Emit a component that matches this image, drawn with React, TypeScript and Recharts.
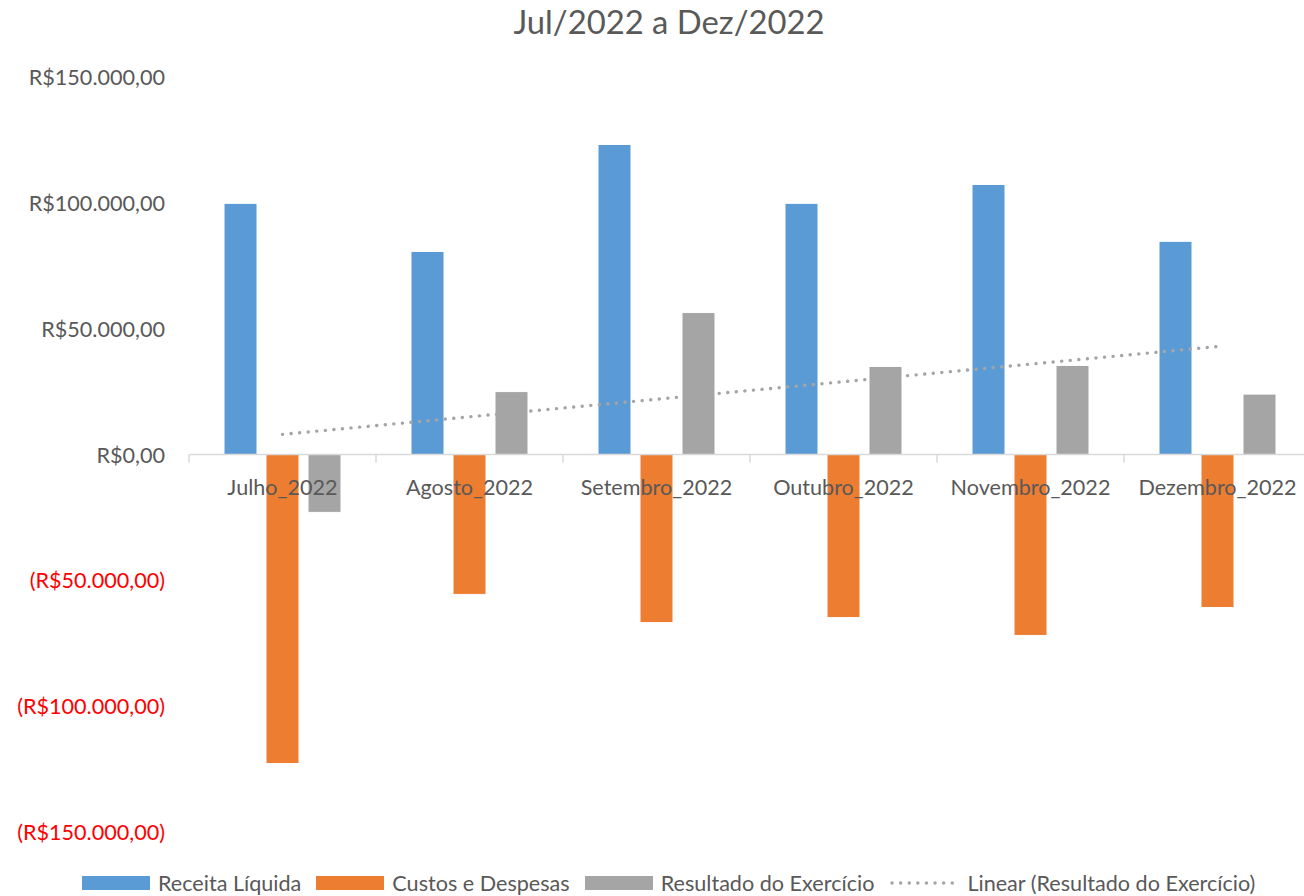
import React from 'react';
import {
    ComposedChart,
    Bar,
    Line,
    XAxis,
    YAxis,
    ReferenceLine
} from 'recharts';

const months = ['Julho_2022', 'Agosto_2022', 'Setembro_2022', 'Outubro_2022', 'Novembro_2022', 'Dezembro_2022'];
const receita = [99800, 80700, 123200, 99800, 107300, 84700];
const custos = [-122800, -55600, -66800, -64800, -71900, -60800];
const resultado = [-23000, 25000, 56400, 35000, 35400, 24000];
// linear trend of Resultado: only its two ends, joined straight
const trend = [8000, null, null, null, null, 42900];
const yTicks = [-150000, -100000, -50000, 0, 50000, 100000, 150000];

const data = months.map((m, i) => ({
    month: m,
    receita: receita[i],
    custos: custos[i],
    resultado: resultado[i],
    trend: trend[i]
}));

const FONT = 'Lato, "Open Sans", sans-serif';
const TEXT = '#595959';
const PLOT_TOP = 77;
const PLOT_BOTTOM = 832;
const ZERO_Y = (PLOT_TOP + PLOT_BOTTOM) / 2;
const CHART_W = 1311;
const CHART_H = 896;
const Y_W = 189;
const BAND = (CHART_W - Y_W) / months.length;
const TICK_FS = 21.6;

const fmt = (v: number) =>
    'R$' + Math.abs(v).toLocaleString('pt-BR', { minimumFractionDigits: 2, maximumFractionDigits: 2 });

const YTick = ({ x, y, payload }: any) => {
    const v = payload.value as number;
    const neg = v < 0;
    return (
        <text x={x} y={y} textAnchor="end" dominantBaseline="central" fontFamily={FONT} fontSize={TICK_FS} fill={neg ? '#FF0000' : TEXT}>
            {neg ? `(${fmt(v)})` : fmt(v)}
        </text>
    );
};

const XTick = ({ x, payload, index }: any) => {
    const half = payload.offset || BAND / 2;
    return (
        <g>
            <line x1={x - half} x2={x - half} y1={ZERO_Y} y2={ZERO_Y + 8} stroke="#d9d9d9" strokeWidth={1.5} />
            {index === months.length - 1 && (
                <line x1={x + half} x2={x + half} y1={ZERO_Y} y2={ZERO_Y + 8} stroke="#d9d9d9" strokeWidth={1.5} />
            )}
            <text x={x} y={ZERO_Y + 32} textAnchor="middle" dominantBaseline="central" fontFamily={FONT} fontSize={TICK_FS} fill={TEXT}>
                {payload.value}
            </text>
        </g>
    );
};

const legendItems = [
    { label: 'Receita Líquida', color: '#5B9BD5', kind: 'bar' },
    { label: 'Custos e Despesas', color: '#ED7D31', kind: 'bar' },
    { label: 'Resultado do Exercício', color: '#A5A5A5', kind: 'bar' },
    { label: 'Linear (Resultado do Exercício)', color: '#A5A5A5', kind: 'dots' }
];

export default function App() {
    return (
        <div style={{ position: 'absolute', left: 0, top: 0, width: 1304, height: 896, overflow: 'hidden', background: '#fff', fontFamily: FONT }}>
            <div style={{ position: 'absolute', left: 0, top: 0, width: 1338, height: 44, lineHeight: '44px', textAlign: 'center', fontSize: 32.8, color: TEXT }}>
                Jul/2022 a Dez/2022
            </div>
            <div style={{ position: 'absolute', left: 0, top: 0 }}>
                <ComposedChart width={CHART_W} height={CHART_H} data={data} margin={{ top: PLOT_TOP, right: 0, bottom: CHART_H - PLOT_BOTTOM - 30, left: 0 }} barSize={33} barGap={9}>
                    <YAxis
                        width={Y_W}
                        domain={[-150000, 150000]}
                        ticks={yTicks}
                        interval={0}
                        axisLine={false}
                        tickLine={false}
                        tickSize={0}
                        tickMargin={24}
                        tick={<YTick />}
                    />
                    <XAxis dataKey="month" height={30} axisLine={false} tickLine={false} interval={0} tick={<XTick />} />
                    <ReferenceLine y={0} stroke="#d9d9d9" strokeWidth={1.5} />
                    <Bar dataKey="receita" fill="#5B9BD5" stroke="#fff" strokeWidth={1} isAnimationActive={false} />
                    <Bar dataKey="custos" fill="#ED7D31" stroke="#fff" strokeWidth={1} isAnimationActive={false} />
                    <Bar dataKey="resultado" fill="#A5A5A5" stroke="#fff" strokeWidth={1} isAnimationActive={false} />
                    <Line
                        dataKey="trend"
                        stroke="#A5A5A5"
                        strokeWidth={3.4}
                        strokeLinecap="round"
                        strokeDasharray="0.1 8.5"
                        dot={false}
                        activeDot={false}
                        connectNulls
                        isAnimationActive={false}
                    />
                </ComposedChart>
            </div>
            <div style={{ position: 'absolute', left: 82, top: 870, height: 26, display: 'flex', alignItems: 'center', fontSize: 21.6, color: TEXT, whiteSpace: 'nowrap' }}>
                {legendItems.map((it) => (
                    <div key={it.label} style={{ display: 'flex', alignItems: 'center', marginRight: 15 }}>
                        {it.kind === 'bar' ? (
                            <div style={{ width: 68, height: 14, background: it.color, marginRight: 8 }} />
                        ) : (
                            <svg width={68} height={14} style={{ marginRight: 10 }}>
                                <line x1={3} x2={66} y1={7} y2={7} stroke={it.color} strokeWidth={3.4} strokeLinecap="round" strokeDasharray="0.1 8.5" />
                            </svg>
                        )}
                        <span>{it.label}</span>
                    </div>
                ))}
            </div>
        </div>
    );
}
